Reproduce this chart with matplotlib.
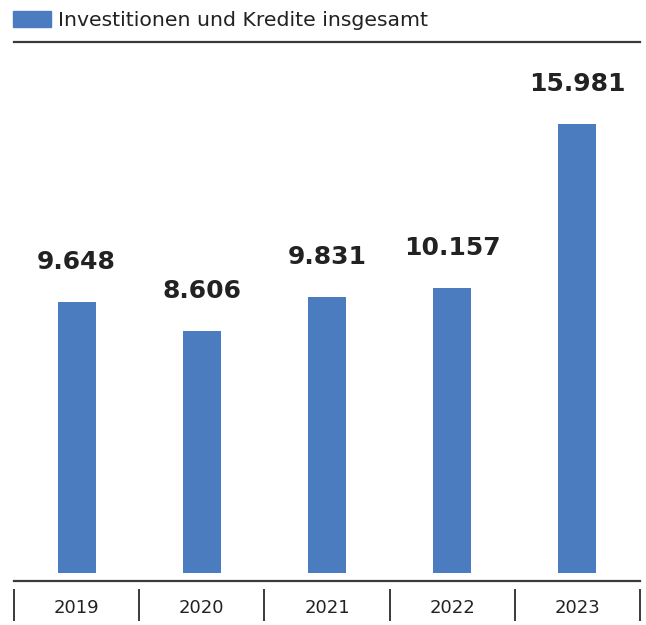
import matplotlib
matplotlib.use('Agg')
import matplotlib.pyplot as plt
from matplotlib.patches import Rectangle

years = ['2019', '2020', '2021', '2022', '2023']
values = [9.648, 8.606, 9.831, 10.157, 15.981]
value_labels = ['9.648', '8.606', '9.831', '10.157', '15.981']
legend_label = 'Investitionen und Kredite insgesamt'

blue = '#4a7cbf'
dark = '#222222'
line_col = '#3a3a3a'
plt.rcParams['font.family'] = ['DejaVu Sans']

W, H = 646, 625
fig = plt.figure(figsize=(W / 100, H / 100), dpi=100)

# axes from top rule (y=42) to bottom rule (y=581), 0 sits at y=573
ax = fig.add_axes([14 / W, 1 - 581 / H, 626 / W, 539 / H])
px_per_unit = 28.1
ax.set_xlim(-0.5, 4.5)
ax.set_ylim(-8 / px_per_unit, (573 - 42) / px_per_unit)

x = list(range(len(years)))
ax.bar(x, values, width=0.305, color=blue)

for xi, v, lab in zip(x, values, value_labels):
    ax.annotate(lab, (xi, v), xytext=(0, 20), textcoords='offset points',
                ha='center', va='bottom', fontsize=18, fontweight='bold',
                color=dark)

for s in ['left', 'right']:
    ax.spines[s].set_visible(False)
for s in ['top', 'bottom']:
    ax.spines[s].set_color(line_col)
    ax.spines[s].set_linewidth(1.6)
ax.set_xticks([])
ax.set_yticks([])

# separators and year labels under the axis
for i in range(len(years) + 1):
    xf = (14 + i * 125.2) / W
    fig.add_artist(plt.Line2D([xf, xf], [1 - 590 / H, 1 - 620 / H],
                              color=line_col, lw=1.4))
for i, yr in enumerate(years):
    xf = (14 + (i + 0.5) * 125.2) / W
    fig.text(xf, 1 - 608 / H, yr, ha='center', va='center',
             fontsize=13, color=dark)

# legend
fig.add_artist(Rectangle((13 / W, 1 - 27 / H), 38 / W, 16 / H,
                         transform=fig.transFigure, color=blue))
fig.text(58 / W, 1 - 20 / H, legend_label, ha='left', va='center',
         fontsize=14.7, color=dark)

fig.savefig('out.png', dpi=100)
